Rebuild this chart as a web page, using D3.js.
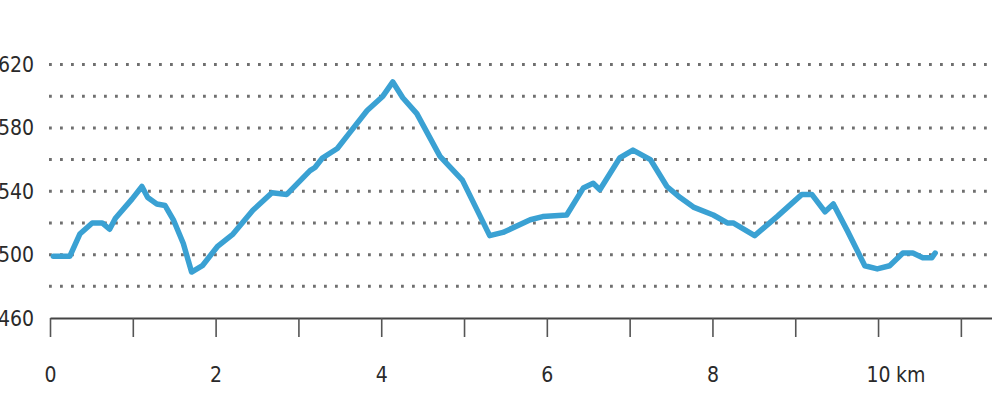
<!DOCTYPE html>
<html>
<head>
<meta charset="utf-8">
<script src="https://cdn.jsdelivr.net/npm/d3@7"></script>
<style>
  body { margin: 0; background: #fff; }
  text { font-family: "Liberation Sans Narrow", "DejaVu Sans Condensed", sans-serif; }
</style>
</head>
<body>
<div id="chart"></div>
<script>
// elevation profile
var distKm = [0.04, 0.24, 0.36, 0.51, 0.63, 0.72, 0.79, 0.99, 1.11, 1.18, 1.29, 1.39, 1.49, 1.61, 1.71,
  1.84, 2.02, 2.21, 2.45, 2.68, 2.86, 3.14, 3.20, 3.29, 3.47, 3.62, 3.83, 4.02, 4.14, 4.26, 4.43,
  4.71, 4.98, 5.31, 5.47, 5.80, 5.95, 6.24, 6.44, 6.56, 6.64, 6.88, 7.04, 7.25, 7.45, 7.61, 7.77,
  8.01, 8.18, 8.25, 8.51, 8.78, 9.08, 9.20, 9.36, 9.46, 9.63, 9.84, 9.99, 10.14, 10.30, 10.42,
  10.54, 10.65, 10.69];
var elevM = [499, 499, 513, 520, 520, 516, 523, 535, 543, 536, 532, 531, 522, 507, 489,
  493, 505, 513, 528, 539, 538, 553, 555, 561, 567, 577, 591, 600, 609, 599, 589,
  562, 547, 512, 514, 522, 524, 525, 542, 545, 541, 561, 566, 560, 543, 536, 530,
  525, 520, 520, 512, 524, 538, 538, 527, 532, 515, 493, 491, 493, 501, 501,
  498, 498, 501];
var xTicks = [0, 1, 2, 3, 4, 5, 6, 7, 8, 9, 10, 11];
var gridValues = [480, 500, 520, 540, 560, 580, 600, 620];
var yLabels = [460, 500, 540, 580, 620];

var width = 1000, height = 410;

var svg = d3.select("#chart")
    .append("svg")
    .attr("width", width)
    .attr("height", height);

var x = d3.scaleLinear()
    .domain([0, 11.37])
    .range([50, 991.5]);

var y = d3.scaleLinear()
    .domain([460, 620])
    .range([318, 64.5]);

// dotted gridlines
svg.append("g")
    .selectAll("line")
    .data(gridValues)
    .join("line")
    .attr("x1", 49)
    .attr("x2", 994)
    .attr("y1", function(d) { return y(d) })
    .attr("y2", function(d) { return y(d) })
    .attr("stroke", "#6f6f6f")
    .attr("stroke-width", 3)
    .attr("stroke-dasharray", "2.8,8.2");

// y labels
svg.append("g")
    .selectAll("text")
    .data(yLabels)
    .join("text")
    .attr("x", 34)
    .attr("y", function(d) { return y(d) })
    .attr("dy", "0.36em")
    .attr("text-anchor", "end")
    .attr("fill", "#2a2a2a")
    .style("font-size", "21px")
    .text(function(d) { return d });

// x axis
var xAxis = svg.append("g")
    .attr("transform", "translate(0," + y(460) + ")")
    .call(d3.axisBottom(x)
        .tickValues(xTicks)
        .tickSize(19)
        .tickSizeOuter(0)
        .tickPadding(30)
        .tickFormat(function(d) { return d % 2 === 0 ? d : "" }));

xAxis.select(".domain")
    .attr("stroke", "#444")
    .attr("stroke-width", 2.2);
xAxis.selectAll(".tick line")
    .attr("stroke", "#555")
    .attr("stroke-width", 1.6);
xAxis.selectAll(".tick text")
    .attr("fill", "#2a2a2a")
    .style("font-size", "21px")
    .style("font-family", "'Liberation Sans Narrow', 'DejaVu Sans Condensed', sans-serif");

// unit after the last label
svg.append("text")
    .attr("x", x(10) + 18)
    .attr("y", y(460) + 49)
    .attr("dy", "0.71em")
    .attr("fill", "#2a2a2a")
    .style("font-size", "21px")
    .text("km");

// profile line
svg.append("path")
    .datum(distKm)
    .attr("fill", "none")
    .attr("stroke", "#3aa1d3")
    .attr("stroke-width", 5.5)
    .attr("stroke-linejoin", "round")
    .attr("stroke-linecap", "round")
    .attr("d", d3.line()
        .x(function(d) { return x(d) })
        .y(function(d, i) { return y(elevM[i]) })
    );
</script>
</body>
</html>
